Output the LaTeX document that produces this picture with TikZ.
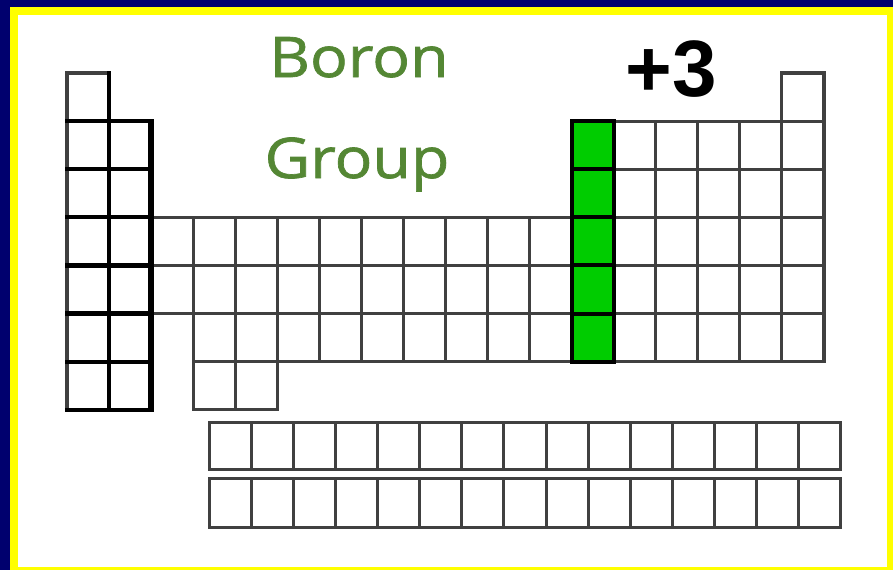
\documentclass[tikz,border=0pt]{standalone}
\usepackage{fontspec}
\newfontfamily\handfont{Open Sans}[FakeStretch=1.12,FakeBold=1.2]
\newfontfamily\boldsans{Liberation Sans}
\definecolor{navyb}{RGB}{0,0,110}
\definecolor{yel}{RGB}{255,255,0}
\definecolor{leaf}{RGB}{84,135,52}
\definecolor{grn}{RGB}{0,204,0}
\begin{document}
\begin{tikzpicture}[x=1pt,y=-1pt,
  gridcell/.style={draw=black!75,line width=3.2pt},
  blkline/.style={draw=black,line width=4.2pt,line cap=rect},
  blkedge/.style={draw=black,line width=6.5pt},
  greencell/.style={fill=grn,draw=black,line width=4pt},
  fcell/.style={draw=black!75,line width=3pt},
  handtext/.style={anchor=base,text=leaf,font=\handfont\fontsize{56}{56}\selectfont},
  chargetext/.style={anchor=base,font=\boldsans\bfseries\fontsize{80}{80}\selectfont}]
\def\cw{42.05}
\def\rh{48.1}
% frame
\fill[navyb] (0,0) rectangle (893,570);
\fill[yel] (10,7) rectangle (893,570);
\fill[white] (18,15) rectangle (887,567);
\useasboundingbox (0,0) rectangle (893,570);
% gray grid cells
\foreach \c/\r in {1/1,18/1,
  1/2,2/2,14/2,15/2,16/2,17/2,18/2,
  1/3,2/3,14/3,15/3,16/3,17/3,18/3,
  1/4,2/4,3/4,4/4,5/4,6/4,7/4,8/4,9/4,10/4,11/4,12/4,14/4,15/4,16/4,17/4,18/4,
  1/5,2/5,3/5,4/5,5/5,6/5,7/5,8/5,9/5,10/5,11/5,12/5,14/5,15/5,16/5,17/5,18/5,
  1/6,2/6,4/6,5/6,6/6,7/6,8/6,9/6,10/6,11/6,12/6,14/6,15/6,16/6,17/6,18/6,
  1/7,2/7,4/7,5/7}
  \draw[gridcell] ({67+(\c-1)*\cw},{73+(\r-1)*\rh}) rectangle ++(\cw,\rh);
% black lines of the left block
\coordinate (divtop) at ({67+\cw},73);
\coordinate (divbot) at ({67+\cw},410);
\draw[blkline] (divtop) -- (divbot);
\foreach \r in {2,...,8}
  \draw[blkline] (67,{73+(\r-1)*\rh}) -- ({67+2*\cw},{73+(\r-1)*\rh});
\coordinate (edgetop) at ({67+2*\cw},{73+\rh-2});
\coordinate (edgebot) at ({67+2*\cw},{73+7*\rh+2});
\draw[blkedge] (edgetop) -- (edgebot);
% green column (group 13)
\foreach \r in {2,...,6}
  \draw[greencell] ({67+12*\cw},{73+(\r-1)*\rh}) rectangle ++(\cw,\rh);
% f-block
\foreach \c in {0,...,14}{
  \draw[fcell] ({209+\c*42.13},422) rectangle ++(42.13,47);
  \draw[fcell] ({209+\c*42.13},478) rectangle ++(42.13,49);
}
% texts
\node[handtext] (boron) at (359,77) {Boron};
\node[handtext] (group) at (357,178) {Group};
\node[chargetext] (charge) at (671,96) {+3};
\end{tikzpicture}
\end{document}
